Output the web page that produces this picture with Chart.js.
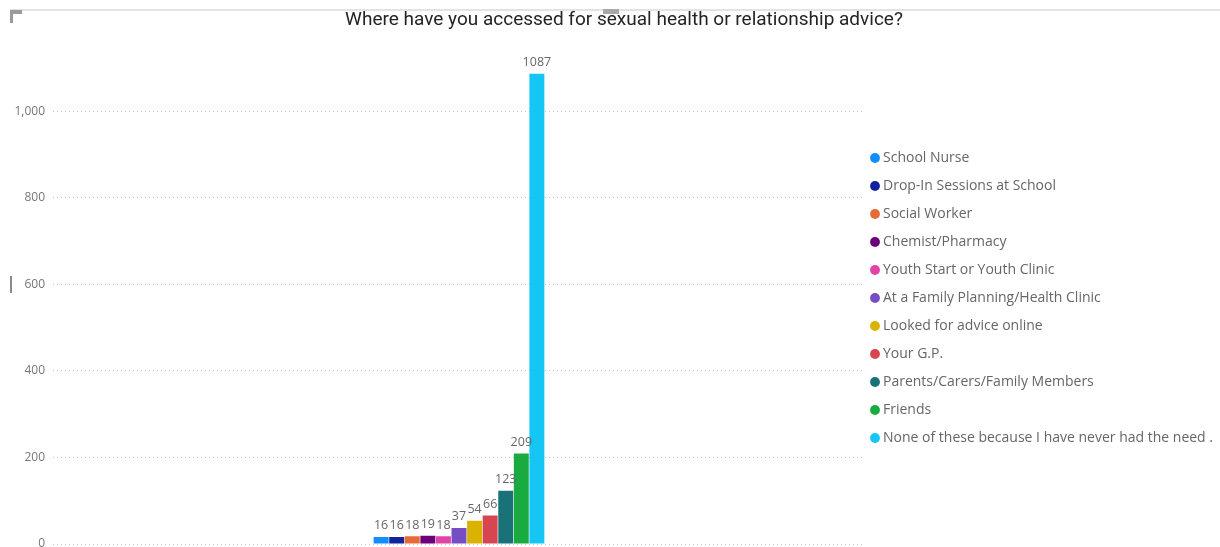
<!DOCTYPE html>
<html>
<head>
<meta charset="utf-8">
<script src="https://cdn.jsdelivr.net/npm/chart.js@4.4.0/dist/chart.umd.min.js"></script>
<style>
  html, body { margin: 0; padding: 0; background: #fff; }
  #wrap { position: relative; width: 1220px; height: 547px; overflow: hidden; }
  #wrap canvas { position: absolute; left: 0; top: 0; }
  .deco { position: absolute; background: #e3e3e3; }
</style>
</head>
<body>
<div id="wrap">
  <canvas id="c" width="1220" height="547"></canvas>
  <div class="deco" style="left:10px;top:9px;width:1210px;height:2px;"></div>
  <div class="deco" style="left:10px;top:10px;width:12px;height:4px;background:#9a9a9a;"></div>
  <div class="deco" style="left:10px;top:10px;width:3px;height:13px;background:#9a9a9a;"></div>
  <div class="deco" style="left:603px;top:9px;width:16px;height:5px;background:#a8a8a8;"></div>
  <div class="deco" style="left:10px;top:276px;width:2px;height:17px;background:#8a8a8a;"></div>
</div>
<script>
const title = 'Where have you accessed for sexual health or relationship advice?';
const categories = [''];
const seriesNames = [
  'School Nurse',
  'Drop-In Sessions at School',
  'Social Worker',
  'Chemist/Pharmacy',
  'Youth Start or Youth Clinic',
  'At a Family Planning/Health Clinic',
  'Looked for advice online',
  'Your G.P.',
  'Parents/Carers/Family Members',
  'Friends',
  'None of these because I have never had the need .'
];
const seriesValues = [16, 16, 18, 19, 18, 37, 54, 66, 123, 209, 1087];
const seriesColors = ['#118DFF', '#12239E', '#E66C37', '#6B007B', '#E044A7', '#744EC2', '#D9B300', '#D64550', '#197278', '#1AAB40', '#15C6F4'];
const yTicks = [0, 200, 400, 600, 800, 1000];

const datasets = seriesNames.map((name, i) => ({
  label: name,
  data: [seriesValues[i]],
  backgroundColor: seriesColors[i],
  borderWidth: 0,
  categoryPercentage: 0.211,
  barPercentage: 0.96
}));

const valueLabels = {
  id: 'valueLabels',
  afterDatasetsDraw(chart) {
    const ctx = chart.ctx;
    ctx.save();
    ctx.font = '12.5px "Open Sans"';
    ctx.fillStyle = '#666666';
    ctx.textAlign = 'center';
    ctx.textBaseline = 'bottom';
    chart.data.datasets.forEach((ds, i) => {
      const meta = chart.getDatasetMeta(i);
      meta.data.forEach((bar, j) => {
        ctx.fillText(String(ds.data[j]), bar.x, bar.y - 5);
      });
    });
    ctx.restore();
  }
};

// fine placement of the legend and title blocks
const boxShift = {
  id: 'boxShift',
  afterLayout(chart) {
    const lg = chart.legend;
    if (lg) {
      lg.left = chart.chartArea.right - 5;
      lg.right = chart.width;
      lg.width = lg.right - lg.left;
      lg.top += 9;
      lg.bottom = chart.height + 40;
      lg.height = lg.bottom - lg.top;
    }
    const tb = chart.titleBlock;
    if (tb) {
      const want = 624;
      const cur = (tb.left + tb.right) / 2;
      tb.left += want - cur;
      tb.right += want - cur;
    }
  }
};

new Chart(document.getElementById('c'), {
  type: 'bar',
  data: { labels: categories, datasets },
  options: {
    responsive: false,
    animation: false,
    layout: { padding: { left: 10, right: 70, top: 0, bottom: 3 } },
    plugins: {
      title: {
        display: true,
        text: title,
        color: '#252423',
        font: { family: 'Roboto', size: 19, weight: 'normal' },
        padding: { top: 9, bottom: 19 }
      },
      legend: {
        display: true,
        position: 'right',
        labels: {
          usePointStyle: true,
          pointStyle: 'circle',
          boxWidth: 2,
          boxHeight: 7,
          padding: 14,
          color: '#666666',
          font: { family: 'Open Sans', size: 14 }
        }
      },
      tooltip: { enabled: false }
    },
    scales: {
      x: { display: false },
      y: {
        min: 0,
        max: 1140,
        afterFit(scale) { scale.width = 43; scale.paddingTop = 0; scale.paddingBottom = 0; },
        afterBuildTicks(scale) { scale.ticks = yTicks.map(v => ({ value: v })); },
        border: { display: false, dash: [1, 3] },
        grid: { color: '#c4c4c4', lineWidth: 1, drawTicks: false },
        ticks: {
          padding: 8,
          color: '#777777',
          font: { family: 'Open Sans', size: 12 },
          callback: v => v.toLocaleString('en-US')
        }
      }
    }
  },
  plugins: [valueLabels, boxShift]
});
</script>
</body>
</html>
